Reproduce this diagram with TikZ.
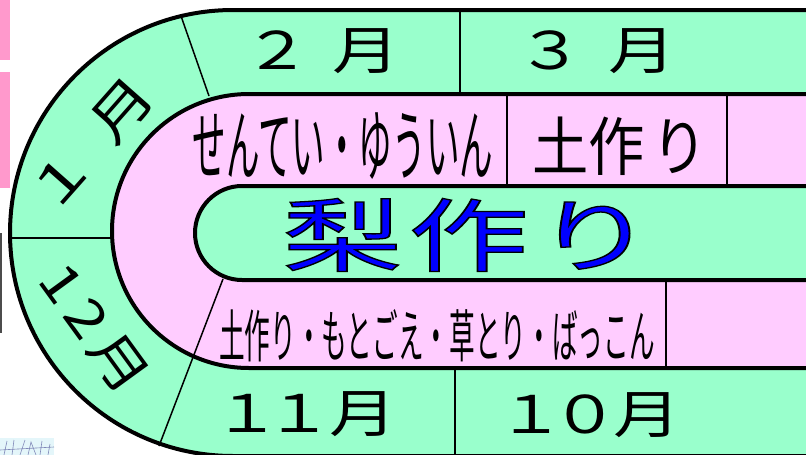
\documentclass[tikz,border=0pt]{standalone}
\usepackage{fontspec}
\usepackage{graphicx}
\newfontfamily\jp{Noto Sans CJK JP}
\newfontfamily\jpoutline[FakeBold=1.6]{Noto Sans CJK JP}
\definecolor{ringgreen}{HTML}{99FFCC}
\definecolor{ringpink}{HTML}{FFCCFF}
\definecolor{tabpink}{HTML}{FF99CC}
\definecolor{fragcyan}{HTML}{E4F6FA}
\definecolor{fragline}{HTML}{8088B8}
\newcommand{\hwide}[2]{\scalebox{#1}[1]{#2}}
\newcommand{\outlined}[1]{\special{pdf:bcolor [0 0 1] [0 0 0]}#1\special{pdf:ecolor}}
\begin{document}
\begin{tikzpicture}[x=1pt,y=-1pt,
  ring/.style={draw=black,line width=4pt,line join=round},
  divider/.style={draw=black,line width=1.5pt},
  month/.style={font=\jp\fontsize{52}{52}\selectfont,inner sep=0pt,text=black},
  task/.style={font=\jp\fontsize{78}{78}\selectfont,inner sep=0pt,text=black},
  tasksmall/.style={font=\jp\fontsize{57}{57}\selectfont,inner sep=0pt,text=black},
  taskmid/.style={font=\jp\fontsize{64}{64}\selectfont,inner sep=0pt,text=black},
  title/.style={font=\jpoutline\fontsize{80}{80}\selectfont,inner sep=0pt},
]
\useasboundingbox (0,0) rectangle (806,455);
\fill[white] (0,0) rectangle (806,455);
\begin{scope}
\clip (0,0) rectangle (806,455);
% left-edge fragments
\fill[tabpink] (0,0) rectangle (10,60);
\fill[tabpink] (0,72) rectangle (10,188);
\fill[black!70] (0,233) rectangle (1.5,333);
\fill[fragcyan] (0,438) rectangle (54,455);
\draw[fragline,line width=0.6pt] (4,455) -- (7,441) (12,455) -- (14,440) (20,455) -- (25,440) (28,455) -- (31,442) -- (36,455) (40,455) -- (42,441) (48,455) -- (50,444) (0,450) -- (54,447);
% rings
\path[ring,fill=ringgreen] (812,10) -- (233,10) arc[start angle=270,end angle=90,radius=223] -- (812,456) -- cycle;
\path[ring,fill=ringpink] (812,94) -- (249,94) arc[start angle=270,end angle=90,radius=137] -- (812,368) -- cycle;
\path[ring,fill=ringgreen] (812,186) -- (242,186) arc[start angle=270,end angle=90,radius=47] -- (812,280) -- cycle;
% divider end points
\coordinate (d1a) at (181,16);  \coordinate (d1b) at (209,96);
\coordinate (d2a) at (11,238);  \coordinate (d2b) at (112,238);
\coordinate (d3a) at (223,279); \coordinate (d3b) at (159,446);
\coordinate (d4a) at (460,10);  \coordinate (d4b) at (460,94);
\coordinate (d5a) at (507,94);  \coordinate (d5b) at (507,186);
\coordinate (d6a) at (727,94);  \coordinate (d6b) at (727,186);
\coordinate (d7a) at (666,280); \coordinate (d7b) at (666,368);
\coordinate (d8a) at (455,368); \coordinate (d8b) at (455,458);
\foreach \i in {1,...,8} \draw[divider] (d\i a) -- (d\i b);
% months
\node[month] (feb) at (322,51) {\hwide{1.3}{２\hspace{17pt}月}};
\node[month] (mar) at (596,51) {\hwide{1.3}{３\hspace{19pt}月}};
\node[month,rotate=48.5] (jan) at (92,145) {\hwide{1.3}{１\hspace{19pt}月}};
\node[month,rotate=-54] (dec) at (94,329) {\hwide{1.2}{1\hspace{7pt}2\hspace{5pt}月}};
\node[month] (nov) at (305.5,414) {\hwide{1.3}{１\hspace{-12pt}１\hspace{-3pt}月}};
\node[month] (oct) at (589.5,415) {\hwide{1.3}{１\hspace{-11pt}０\hspace{-4pt}月}};
% tasks
\node[task] (prune) at (343,146) {\hwide{0.43}{せんてい・ゆういん}};
\node[taskmid] (soil) at (620,146) {\hwide{0.88}{土\hspace{0pt}作\hspace{8pt}り}};
\node[tasksmall] (autumn) at (437,336) {\hwide{0.45}{土作り・もとごえ・草とり・ばっこん}};
\node[title] (title) at (468.5,235) {\outlined{\hwide{1.5}{梨\hspace{4pt}作\hspace{4pt}り}}};
\end{scope}
\end{tikzpicture}
\end{document}
